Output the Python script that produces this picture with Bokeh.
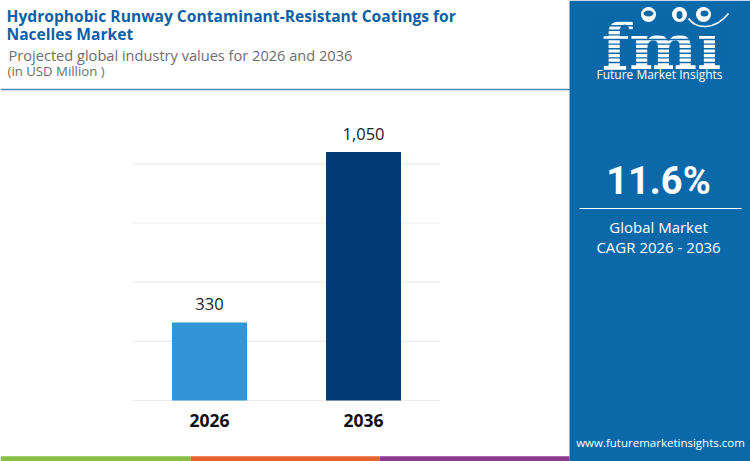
from bokeh.plotting import figure
from bokeh.models import Range1d
from bokeh.core.properties import value
from bokeh.embed import file_html
from bokeh.resources import INLINE

# ---------------- data ----------------
years = ["2026", "2036"]
values = [330, 1050]
value_labels = ["330", "1,050"]
grid_ticks = [0, 250, 500, 750, 1000]
bar_colors = ["#3195d6", "#023a74"]
title_lines = ["Hydrophobic Runway Contaminant-Resistant Coatings for", "Nacelles Market"]
subtitle_lines = ["Projected global industry values for 2026 and 2036", "(in USD Million )"]
cagr_text = "11.6%"
cagr_lines = ["Global Market", "CAGR 2026 - 2036"]
brand = "Future Market Insights"
website = "www.futuremarketinsights.com"
strip_colors = ["#86bf43", "#e8602c", "#8c3a8e"]

# ---------------- layout (pixel space 750 x 461) ----------------
W, H = 750, 461
def fs(px):
    return value(f"{px:.1f}px")

PANEL_X = 569
PLOT_L, PLOT_R = 132, 440
BASE_Y, TOPGRID_Y = 400, 163.3
n = len(years)
unit_px = (PLOT_R - PLOT_L) / n            # pixels per category slot
k = (BASE_Y - TOPGRID_Y) / grid_ticks[-1]  # pixels per value unit

p = figure(width=W, height=H, x_range=Range1d(0, W), y_range=Range1d(H, 0),
           x_axis_type=None, y_axis_type=None, output_backend="svg",
           toolbar_location=None, min_border=0, outline_line_color=None,
           background_fill_color="white", border_fill_color="white")

p.extra_x_ranges = {"bx": Range1d(-PLOT_L / unit_px, (W - PLOT_L) / unit_px)}
p.extra_y_ranges = {"val": Range1d(-(H - BASE_Y) / k, BASE_Y / k)}

# ---------------- header ----------------
p.text(x=[6, 6], y=[15, 33.5], text=title_lines, text_font=value("Open Sans"),
       text_font_size=fs(15.6), text_font_style="bold", text_color="#0d5fa6",
       text_baseline="middle", text_align="left")
p.text(x=[8], y=[54.5], text=[subtitle_lines[0]], text_font=value("Open Sans"),
       text_font_size=fs(14.6), text_color="#6e6e6e", text_baseline="middle")
p.text(x=[7], y=[70.5], text=[subtitle_lines[1]], text_font=value("Open Sans"),
       text_font_size=fs(13.2), text_color="#6e6e6e", text_baseline="middle")
p.segment(x0=[0], y0=[89], x1=[PANEL_X], y1=[89], line_color="#4f86b6", line_width=1.5)

# bottom colour strip
p.quad(left=[0, 190, 379], right=[190, 379, PANEL_X], bottom=[H, H, H],
       top=[455.7, 455.7, 455.7], fill_color=strip_colors, line_color=None)

# ---------------- bar chart ----------------
p.segment(x0=[0] * len(grid_ticks), x1=[n] * len(grid_ticks), y0=grid_ticks, y1=grid_ticks,
          line_color="#efeaea", line_width=1.2, x_range_name="bx", y_range_name="val")
xs = [i + 0.5 for i in range(n)]
p.vbar(x=xs, top=values, bottom=0, width=75 / unit_px, fill_color=bar_colors,
       line_color=None, x_range_name="bx", y_range_name="val")
p.text(x=xs, y=values, text=value_labels, text_font=value("Open Sans"),
       text_font_size=fs(16.5), text_color="#222222", text_align="center",
       text_baseline="middle", y_offset=-18, x_range_name="bx", y_range_name="val")
p.text(x=xs, y=[0] * n, text=years, text_font=value("Open Sans"),
       text_font_size=fs(17.5), text_font_style="bold", text_color="#111111",
       text_align="center", text_baseline="middle", y_offset=19.5,
       x_range_name="bx", y_range_name="val")

# ---------------- right panel ----------------
PANEL_BLUE = "#0b69aa"
p.quad(left=[PANEL_X], right=[W], top=[0], bottom=[H], fill_color=PANEL_BLUE, line_color=None)

# logo
p.text(x=[661], y=[46], text=["fm\u0131"], text_font=value("DejaVu Serif"),
       text_font_size=fs(64), text_font_style="bold", text_color="white",
       text_align="center", text_baseline="middle")
stripe_y = [16 + 4.6 * i for i in range(11)]
p.segment(x0=[594] * len(stripe_y), x1=[728] * len(stripe_y), y0=stripe_y, y1=stripe_y,
          line_color=PANEL_BLUE, line_width=1.4)
p.bezier(x0=[688], y0=[18], x1=[728], y1=[13], cx0=[696], cy0=[29], cx1=[714], cy1=[30],
         line_color="white", line_width=1.6)
p.scatter(x=[648, 679, 703], y=[14, 14, 14], size=15, fill_color="white", line_color=None)
p.ellipse(x=[648, 679, 704], y=[13, 14.5, 13], width=[10, 6, 8], height=[6, 8, 6],
          fill_color=PANEL_BLUE, line_color=None)
p.text(x=[659], y=[73.5], text=[brand], text_font=value("Open Sans"), text_font_size=fs(12),
       text_color="white", text_align="center", text_baseline="middle")

# CAGR block
p.text(x=[658], y=[180], text=[cagr_text], text_font=value("Roboto"), text_font_size=fs(38),
       text_font_style="bold", text_color="white", text_align="center",
       text_baseline="middle")
p.segment(x0=[579], x1=[741], y0=[208], y1=[208], line_color="white", line_width=1.2)
p.text(x=[658, 658], y=[226.5, 246], text=cagr_lines, text_font=value("Open Sans"),
       text_font_size=fs(15), text_color="white", text_align="center",
       text_baseline="middle")
p.text(x=[660], y=[441.5], text=[website], text_font=value("Open Sans"), text_font_size=fs(11.5),
       text_color="white", text_align="center", text_baseline="middle")

open("out.html", "w").write(file_html(p, INLINE))
